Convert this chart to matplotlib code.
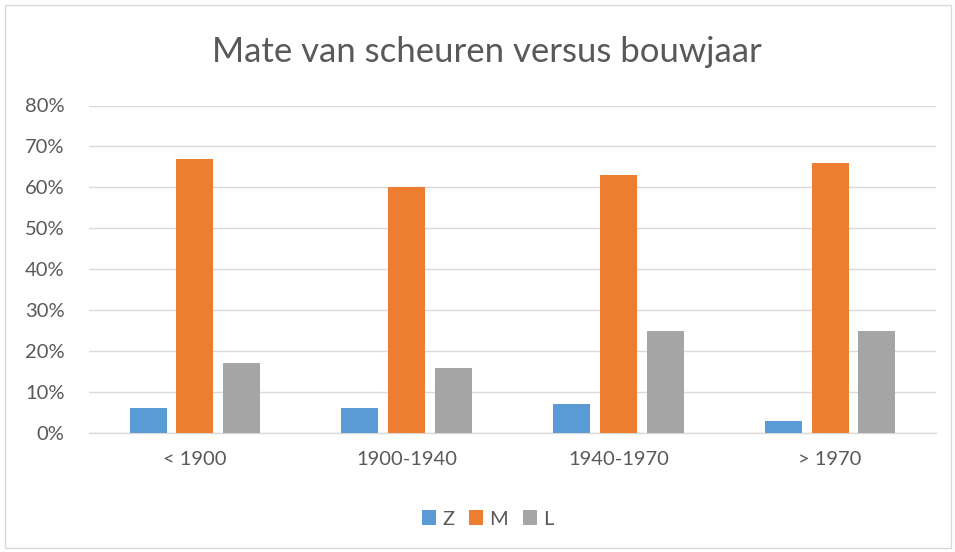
import matplotlib.pyplot as plt
from matplotlib.patches import Rectangle
from matplotlib.ticker import PercentFormatter
import numpy as np

categories = ["< 1900", "1900-1940", "1940-1970", "> 1970"]
series_names = ["Z", "M", "L"]
z_vals = [0.06, 0.06, 0.07, 0.03]
m_vals = [0.67, 0.60, 0.63, 0.66]
l_vals = [0.17, 0.16, 0.25, 0.25]
colors = ["#5B9BD5", "#ED7D31", "#A5A5A5"]

W, H = 955, 552
fig = plt.figure(figsize=(W / 100, H / 100), dpi=100)
fig.patch.set_facecolor("white")

# outer chart frame
fig.add_artist(Rectangle((4.5 / W, 4.5 / H), (W - 9) / W, (H - 9) / H,
                         transform=fig.transFigure, fill=False,
                         edgecolor="#D9D9D9", linewidth=1))

left, right, top, bottom = 89, 936, 105.5, 433
ax = fig.add_axes([left / W, (H - bottom) / H, (right - left) / W, (bottom - top) / H])

x = np.arange(len(categories))
bw = 0.174
step = 0.221
for i, (name, vals) in enumerate(zip(series_names, [z_vals, m_vals, l_vals])):
    ax.bar(x + (i - 1) * step, vals, width=bw, color=colors[i], label=name, zorder=3)

ax.set_xlim(-0.5, len(categories) - 0.5)
ax.set_ylim(0, 0.8)
ax.set_yticks(np.arange(0, 0.81, 0.1))
ax.yaxis.set_major_formatter(PercentFormatter(1.0, decimals=0))
ax.set_xticks(x)
ax.set_xticklabels(categories)

ax.grid(axis="y", color="#D9D9D9", linewidth=1, zorder=0)
for s in ["top", "right", "left"]:
    ax.spines[s].set_visible(False)
ax.spines["bottom"].set_color("#D9D9D9")
ax.spines["bottom"].set_linewidth(1)
ax.tick_params(length=0, labelsize=14.5, labelcolor="#595959")
ax.tick_params(axis="y", pad=17.5)
ax.tick_params(axis="x", pad=13)
for lab in ax.get_xticklabels() + ax.get_yticklabels():
    lab.set_family("Lato")

fig.text(487 / W, (H - 52) / H, "Mate van scheuren versus bouwjaar", ha="center", va="center",
         fontsize=25, color="#595959", family="Lato")

fig.legend(loc="center", bbox_to_anchor=(488 / W, (H - 519) / H), ncol=3, frameon=False,
           prop={"family": "Lato", "size": 14.5}, labelcolor="#595959",
           handlelength=0.7, handleheight=0.7, handletextpad=0.3, columnspacing=0.75)

fig.savefig("out.png", dpi=100)
